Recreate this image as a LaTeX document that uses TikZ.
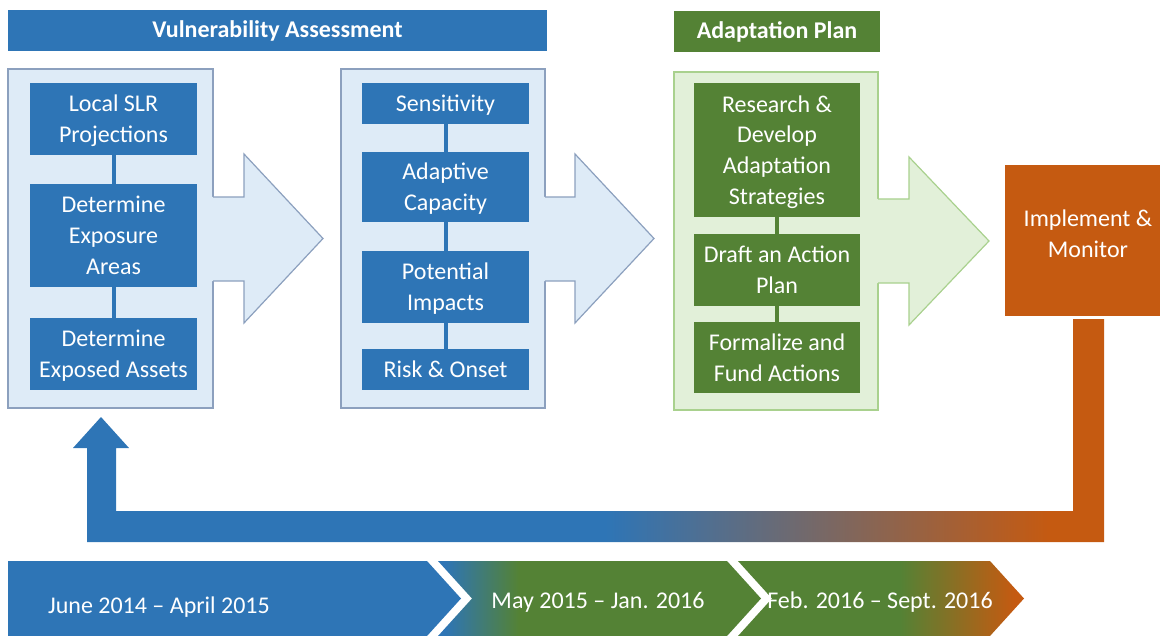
\documentclass[tikz,border=0pt]{standalone}
\usepackage{fontspec}
\setmainfont{Carlito}
\usepackage{xcolor}
\usepackage{tikz}
\usetikzlibrary{positioning}

\definecolor{vablue}{RGB}{46,117,182}
\definecolor{vafill}{RGB}{222,235,247}
\definecolor{valine}{RGB}{140,160,190}
\definecolor{apgreen}{RGB}{84,130,53}
\definecolor{apfill}{RGB}{226,240,217}
\definecolor{apline}{RGB}{169,209,142}
\definecolor{imorange}{RGB}{197,90,17}

% left to right blends, the middle 50bp span the filled path
\pgfdeclarehorizontalshading{loopshade}{100bp}{color(0bp)=(vablue); color(50.8bp)=(vablue);
  color(72.4bp)=(imorange); color(100bp)=(imorange)}
\pgfdeclarehorizontalshading{shadetwo}{100bp}{color(0bp)=(vablue); color(26bp)=(vablue);
  color(37.5bp)=(apgreen); color(100bp)=(apgreen)}
\pgfdeclarehorizontalshading{shadethree}{100bp}{color(0bp)=(apgreen); color(53.3bp)=(apgreen);
  color(73.4bp)=(imorange); color(100bp)=(imorange)}

\begin{document}
\begin{tikzpicture}[
  x=0.5pt, y=-0.5pt,
  every node/.style={font=\fontsize{12}{15.4}\selectfont, text=white, align=center,
                     inner sep=0pt, outer sep=0pt},
  header/.style={rectangle, minimum height=20.5pt,
                 font=\fontsize{12}{15.4}\selectfont\bfseries},
  panel/.style={rectangle, draw, line width=0.6pt,
                minimum width=102.5pt, minimum height=169.5pt},
  box/.style={rectangle, minimum width=83.5pt, text depth=0pt},
  link/.style={line width=2pt},
  stageline/.style={line width=0.6pt},
  datetext/.style={anchor=base}
]
\useasboundingbox (0,0) rectangle (1160,636);

% headers
\node[header, fill=vablue, minimum width=269.5pt] (vahead) at (277.5,31) {Vulnerability Assessment};
\node[header, fill=apgreen, minimum width=103pt] (aphead) at (777,32) {Adaptation Plan};

% panels
\node[panel, draw=valine, fill=vafill] (expopanel) at (110.5,238.5) {};
\node[panel, draw=valine, fill=vafill, minimum width=102pt] (riskpanel) at (443,238.5) {};
\node[panel, draw=apline, fill=apfill, minimum width=102pt, minimum height=169pt] (planpanel) at (776,241) {};

% stage arrows
\fill[vafill] (212,197) -- (244,197) -- (244,154) -- (323,238.5) -- (244,323) -- (244,281) -- (212,281) -- cycle;
\draw[valine, stageline] (213,197) -- (244,197) -- (244,154) -- (323,238.5) -- (244,323) -- (244,281) -- (213,281);
\fill[vafill] (544,197) -- (575,197) -- (575,154) -- (654,238.5) -- (575,323) -- (575,281) -- (544,281) -- cycle;
\draw[valine, stageline] (545,197) -- (575,197) -- (575,154) -- (654,238.5) -- (575,323) -- (575,281) -- (545,281);
\fill[apfill] (877,199) -- (909,199) -- (909,157) -- (989,241) -- (909,325) -- (909,283) -- (877,283) -- cycle;
\draw[apline, stageline] (878,199) -- (909,199) -- (909,157) -- (989,241) -- (909,325) -- (909,283) -- (878,283);

% exposure steps
\node[box, fill=vablue, minimum height=36pt] (slr) at (113.5,119) {Local SLR\\Projections};
\node[box, fill=vablue, minimum height=51.5pt] (expoarea) at (113.5,235.5) {Determine\\Exposure\\Areas};
\node[box, fill=vablue, minimum height=36pt] (expoasset) at (113.5,354) {Determine\\Exposed Assets};

% risk steps
\node[box, fill=vablue, minimum height=20.5pt] (sens) at (445.5,103.5) {Sensitivity};
\node[box, fill=vablue, minimum height=35pt] (adapcap) at (445.5,187) {Adaptive\\Capacity};
\node[box, fill=vablue, minimum height=36pt] (impacts) at (445.5,287) {Potential\\Impacts};
\node[box, fill=vablue, minimum height=20.5pt] (risk) at (445.5,369.5) {Risk \& Onset};

% plan steps
\node[box, fill=apgreen, minimum width=83pt, minimum height=67pt] (research) at (777,150)
      {Research \&\\Develop\\Adaptation\\Strategies};
\node[box, fill=apgreen, minimum width=83pt, minimum height=36pt] (draft) at (777,270) {Draft an Action\\Plan};
\node[box, fill=apgreen, minimum width=83pt, minimum height=35.5pt] (fund) at (777,357.5)
      {Formalize and\\Fund Actions};

\node[rectangle, fill=imorange, minimum width=83pt, minimum height=75.5pt, text depth=7pt] (implement)
      at (1088,240.5) {Implement \&\\Monitor};

\draw[link, vablue] (slr) -- (expoarea);
\draw[link, vablue] (expoarea) -- (expoasset);
\draw[link, vablue] (sens) -- (adapcap);
\draw[link, vablue] (adapcap) -- (impacts);
\draw[link, vablue] (impacts) -- (risk);
\draw[link, apgreen] (research) -- (draft);
\draw[link, apgreen] (draft) -- (fund);

% feedback loop
\shade[shading=loopshade] (1104,319) -- (1104,542) -- (87,542) -- (87,448) -- (73,448) -- (101,417)
      -- (129,448) -- (116,448) -- (116,511) -- (1073,511) -- (1073,319) -- cycle;

% timeline
\fill[vablue] (8,561) -- (427,561) -- (461,598.5) -- (427,636) -- (8,636) -- cycle;
\shade[shading=shadetwo] (438,561) -- (727,561) -- (761,598.5) -- (727,636) -- (438,636) -- (472,598.5) -- cycle;
\shade[shading=shadethree] (738,561) -- (990,561) -- (1024,598.5) -- (990,636) -- (738,636) -- (772,598.5) -- cycle;

\node[datetext] (phaseone) at (159,613) {June 2014 -- April 2015};
\node[datetext] (phasetwo) at (598,608) {May 2015 -- Jan. 2016};
\node[datetext] (phasethree) at (880,608) {Feb. 2016 -- Sept. 2016};

\end{tikzpicture}
\end{document}
